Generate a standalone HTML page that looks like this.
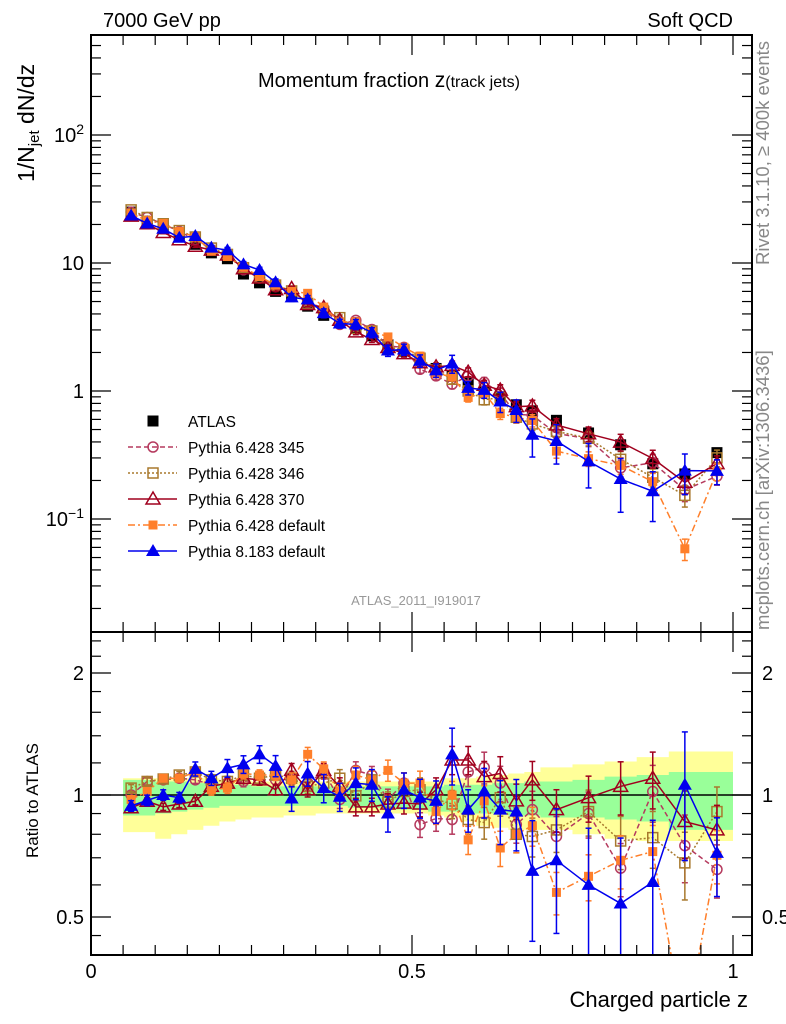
<!DOCTYPE html>
<html><head><meta charset="utf-8">
<style>
html,body{margin:0;padding:0;background:#fff;}
svg{display:block;font-family:"Liberation Sans",sans-serif;}
</style></head>
<body>
<svg id="chart" width="786" height="1024" viewBox="0 0 786 1024" xmlns="http://www.w3.org/2000/svg">
<text x="103" y="27" font-size="20">7000 GeV pp</text>
<text x="733" y="27" font-size="20" text-anchor="end">Soft QCD</text>
<text x="258" y="87" font-size="20">Momentum fraction <tspan font-size="21">z</tspan><tspan font-size="16">(track jets)</tspan></text>
<text transform="translate(34,182) rotate(-90)" font-size="23">1/N<tspan font-size="15" dy="5">jet</tspan><tspan dy="-5"> dN/dz</tspan></text>
<text transform="translate(38,858) rotate(-90)" font-size="17">Ratio to ATLAS</text>
<text x="748" y="1007" font-size="22" text-anchor="end">Charged particle z</text>
<text transform="translate(769,265) rotate(-90)" font-size="18.5" fill="#888">Rivet 3.1.10, ≥ 400k events</text>
<text transform="translate(769,630) rotate(-90)" font-size="18.5" fill="#888">mcplots.cern.ch [arXiv:1306.3436]</text>
<text x="416" y="605" font-size="13" fill="#999" text-anchor="middle">ATLAS_2011_I919017</text>
<g id="bands"></g>
<g id="ratio"></g>
<g id="main"></g>
<g id="axes"></g>
<g id="legend"></g>
</svg>
<script>
const zBins = [0.0625,0.0875,0.1125,0.1375,0.1625,0.1875,0.2125,0.2375,0.2625,0.2875,0.3125,0.3375,0.3625,0.3875,0.4125,0.4375,0.4625,0.4875,0.5125,0.5375,0.5625,0.5875,0.6125,0.6375,0.6625,0.6875,0.725,0.775,0.825,0.875,0.925,0.975];
const atlasValues = [25,21,18.5,16,14,12,10.8,8.2,7.0,6.0,5.5,4.6,3.9,3.4,3.1,2.7,2.3,2.05,1.75,1.5,1.3,1.15,1.0,0.9,0.78,0.70,0.59,0.47,0.38,0.27,0.225,0.33];
const ratio345 = [1.0,1.08,1.09,1.10,1.09,1.06,1.07,1.08,1.09,1.09,1.09,1.07,1.14,0.975,1.15,1.12,0.975,1.07,0.845,0.875,0.87,1.14,1.17,1.07,0.845,0.92,0.79,0.90,0.66,1.02,0.75,0.655];
const ratio346 = [1.04,1.08,1.095,1.12,1.14,1.09,1.08,1.12,1.10,1.12,1.10,1.05,1.07,1.10,0.995,1.09,0.96,1.02,1.03,0.975,0.95,0.87,0.855,0.985,0.80,0.79,0.82,0.91,0.77,0.785,0.68,0.91];
const ratio370 = [0.93,0.965,0.935,0.95,0.965,1.05,1.07,1.10,1.09,1.03,1.15,1.03,1.15,1.05,0.935,0.935,0.95,0.955,0.95,1.03,1.22,1.22,1.11,1.13,0.967,1.09,0.92,0.985,1.05,1.10,0.86,0.82];
const ratioP6def = [0.975,1.02,1.10,1.10,1.14,1.03,1.04,1.13,1.12,1.12,1.09,1.26,1.16,1.02,1.12,1.09,1.15,1.07,1.07,0.91,1.0,0.775,0.967,0.74,0.80,0.84,0.575,0.63,0.69,0.725,0.26,0.71];
const ratioP8def = [0.94,0.97,1.0,0.985,1.16,1.10,1.165,1.19,1.26,1.18,0.98,1.13,1.04,0.99,1.07,1.06,0.90,1.03,0.985,0.967,1.26,0.92,1.02,0.92,0.91,0.65,0.69,0.60,0.54,0.61,1.06,0.72];
const relErrMC = [0.02,0.02,0.02,0.02,0.02,0.03,0.03,0.03,0.03,0.03,0.04,0.04,0.04,0.05,0.05,0.05,0.06,0.06,0.07,0.07,0.08,0.08,0.09,0.10,0.10,0.11,0.12,0.13,0.15,0.16,0.19,0.15];
const relErrP8 = [0.03,0.03,0.03,0.03,0.04,0.04,0.05,0.05,0.05,0.06,0.07,0.07,0.08,0.08,0.09,0.09,0.10,0.10,0.11,0.12,0.16,0.12,0.14,0.18,0.20,0.33,0.34,0.38,0.45,0.42,0.35,0.22];
const yellowUp = [1.10,1.10,1.10,1.10,1.10,1.10,1.09,1.09,1.08,1.08,1.08,1.08,1.08,1.08,1.08,1.08,1.08,1.08,1.08,1.08,1.10,1.10,1.11,1.12,1.13,1.14,1.17,1.19,1.21,1.24,1.28,1.28];
const yellowDown = [0.81,0.81,0.78,0.80,0.82,0.84,0.86,0.87,0.88,0.88,0.89,0.89,0.90,0.90,0.90,0.90,0.90,0.90,0.90,0.89,0.88,0.86,0.84,0.83,0.82,0.82,0.82,0.80,0.78,0.77,0.77,0.77];
const greenUp = [1.09,1.09,1.08,1.08,1.07,1.07,1.06,1.06,1.05,1.05,1.05,1.05,1.05,1.05,1.05,1.05,1.05,1.05,1.05,1.05,1.06,1.06,1.06,1.07,1.07,1.08,1.08,1.09,1.11,1.12,1.14,1.14];
const greenDown = [0.89,0.89,0.90,0.91,0.92,0.93,0.94,0.94,0.94,0.94,0.94,0.94,0.94,0.94,0.93,0.93,0.93,0.92,0.92,0.91,0.91,0.90,0.90,0.90,0.89,0.89,0.88,0.88,0.87,0.86,0.82,0.82];
const binHalf = [0.0125,0.0125,0.0125,0.0125,0.0125,0.0125,0.0125,0.0125,0.0125,0.0125,0.0125,0.0125,0.0125,0.0125,0.0125,0.0125,0.0125,0.0125,0.0125,0.0125,0.0125,0.0125,0.0125,0.0125,0.0125,0.0125,0.025,0.025,0.025,0.025,0.025,0.025];

const NS="http://www.w3.org/2000/svg";
const L=91,R=752,T=35,MB=632,RB=955;
function X(z){return 91+z*642;}
function Ym(v){return 391-128*Math.log10(v);}
function Yr(r){return 795-122*Math.log2(r);}
function el(tag,attrs,parent){const e=document.createElementNS(NS,tag);for(const k in attrs)e.setAttribute(k,attrs[k]);parent.appendChild(e);return e;}

const bands=document.getElementById('bands');
function band(up,down,color,name){
  let top=[],bot=[];
  zBins.forEach((z,i)=>{const x0=X(z-binHalf[i]),x1=X(z+binHalf[i]);
    top.push(x0+','+Yr(up[i]),x1+','+Yr(up[i]));
    bot.unshift(x1+','+Yr(down[i]),x0+','+Yr(down[i]));});
  const p=el('polygon',{points:top.concat(bot).join(' '),fill:color},bands);
  
  
}
band(yellowUp,yellowDown,'#ffff99','yellow-band');
band(greenUp,greenDown,'#99ff99','green-band');

const series=[
 {name:'Pythia 6.428 345',key:'p345',r:ratio345,color:'#b53a5e',dash:'5,3',marker:'circle',fill:'none',err:relErrMC},
 {name:'Pythia 6.428 346',key:'p346',r:ratio346,color:'#a8792d',dash:'2,2',marker:'square',fill:'none',err:relErrMC},
 {name:'Pythia 6.428 370',key:'p370',r:ratio370,color:'#a0001e',dash:'',marker:'tri',fill:'none',err:relErrMC},
 {name:'Pythia 6.428 default',key:'p6def',r:ratioP6def,color:'#ff7f2a',dash:'7,3,2,3',marker:'fsquare',fill:'#ff7f2a',err:relErrMC},
 {name:'Pythia 8.183 default',key:'p8def',r:ratioP8def,color:'#0000ee',dash:'',marker:'ftri',fill:'#0000ee',err:relErrP8}
];
function marker(g,type,x,y,color){
  let m;
  if(type==='circle') m=el('circle',{cx:x,cy:y,r:5,fill:'none',stroke:color,'stroke-width':1.5},g);
  else if(type==='square') m=el('rect',{x:x-5,y:y-5,width:10,height:10,fill:'none',stroke:color,'stroke-width':1.5},g);
  else if(type==='fsquare') m=el('rect',{x:x-4.5,y:y-4.5,width:9,height:9,fill:color},g);
  else if(type==='atlas') m=el('rect',{x:x-5.5,y:y-5.5,width:11,height:11,fill:'#000'},g);
  else if(type==='tri') m=el('polygon',{points:`${x},${y-7} ${x-7},${y+5} ${x+7},${y+5}`,fill:'none',stroke:color,'stroke-width':1.5},g);
  else m=el('polygon',{points:`${x},${y-7} ${x-7},${y+5} ${x+7},${y+5}`,fill:color},g);
  return m;
}
const mainG=document.getElementById('main'), ratioG=document.getElementById('ratio');
const defs=el('defs',{},document.getElementById('chart'));
const c1=el('clipPath',{id:'cm'},defs);el('rect',{x:L,y:T,width:R-L,height:MB-T},c1);
const c2=el('clipPath',{id:'cr'},defs);el('rect',{x:L,y:MB,width:R-L,height:RB-MB},c2);
mainG.setAttribute('clip-path','url(#cm)');ratioG.setAttribute('clip-path','url(#cr)');
el('line',{x1:L,x2:R,y1:Yr(1),y2:Yr(1),stroke:'#000','stroke-width':1.5},ratioG);

series.forEach(s=>{
  [['main',mainG,(i)=>atlasValues[i]*s.r[i],Ym],['ratio',ratioG,(i)=>s.r[i],Yr]].forEach(([pn,parent,val,Y])=>{
    const g=el('g',{},parent);
    
    
    const pts=zBins.map((z,i)=>X(z)+','+Y(val(i))).join(' ');
    const ln=el('polyline',{points:pts,fill:'none',stroke:s.color,'stroke-width':1.5},g);
    if(s.dash) ln.setAttribute('stroke-dasharray',s.dash);
    zBins.forEach((z,i)=>{
      const v=val(i),e=s.err[i];
      const x=X(z),y1=Y(v*(1+e)),y2=Y(Math.max(v*(1-e),1e-3));
      el('line',{x1:x,x2:x,y1:y1,y2:y2,stroke:s.color,'stroke-width':1.5},g);
      el('line',{x1:x-3,x2:x+3,y1:y1,y2:y1,stroke:s.color,'stroke-width':1.5},g);
      el('line',{x1:x-3,x2:x+3,y1:y2,y2:y2,stroke:s.color,'stroke-width':1.5},g);
      const m=marker(g,s.marker,x,Y(v),s.color);
      
      
    });
  });
});
const ag=el('g',{},mainG);


zBins.forEach((z,i)=>{
  const m=marker(ag,'atlas',X(z),Ym(atlasValues[i]),'#000');
  
  
});
mainG.insertBefore(ag,mainG.firstChild);

const ax=document.getElementById('axes');
el('rect',{x:L,y:T,width:R-L,height:RB-T,fill:'none',stroke:'#000','stroke-width':2},ax);
el('line',{x1:L,x2:R,y1:MB,y2:MB,stroke:'#000','stroke-width':2},ax);
function tick(x1,y1,x2,y2){el('line',{x1,y1,x2,y2,stroke:'#000','stroke-width':1.2},ax);}
function label(x,y,txt,anchor,size,name){const t=el('text',{x,y,'font-size':size,'text-anchor':anchor},ax);t.innerHTML=txt;return t;}
for(let d=-2;d<=2;d++){for(let k=1;k<10;k++){const v=k*Math.pow(10,d);const y=Ym(v);if(y<T||y>MB)continue;const len=k===1?20:10;tick(L,y,L+len,y);tick(R,y,R-len,y);}}
const mainTickVals=[100,10,1,0.1];
const mainTickText=['10<tspan font-size="14" dy="-8">2</tspan>','10','1','10<tspan font-size="14" dy="-8">−1</tspan>'];
mainTickVals.forEach((v,i)=>label(84,Ym(v)+7,mainTickText[i],'end',20,'y-tick-label'));
const ratioMinor=[0.4,0.45,0.5,0.6,0.7,0.8,0.9,1,1.2,1.4,1.6,1.8,2,2.2,2.4];
ratioMinor.forEach(r=>{const y=Yr(r);if(y<MB||y>RB)return;const maj=(r===0.5||r===1||r===2);const len=maj?20:10;tick(L,y,L+len,y);tick(R,y,R-len,y);});
const ratioTickVals=[2,1,0.5];const ratioTickText=['2','1','0.5'];
ratioTickVals.forEach((r,i)=>{label(84,Yr(r)+7,ratioTickText[i],'end',20,'ratio-tick-label-left');label(762,Yr(r)+7,ratioTickText[i],'start',20,'ratio-tick-label-right');});
for(let i=0;i<=20;i++){const z=i*0.05;const x=X(z);const maj=i%10===0;const len=maj?20:10;tick(x,RB,x,RB-len);tick(x,MB,x,MB-len);tick(x,MB,x,MB+len);tick(x,T,x,T+len);}
const xTickVals=[0,0.5,1];const xTickText=['0','0.5','1'];
xTickVals.forEach((z,i)=>label(X(z),978,xTickText[i],'middle',20,'x-tick-label'));

const lg=document.getElementById('legend');
const legY=[421,447,473,499,525,551];
let e0=el('g',{},lg);
marker(e0,'atlas',153,legY[0],'#000');
let t0=el('text',{x:188,y:legY[0]+6,'font-size':15.5},e0);t0.textContent='ATLAS';
series.forEach((s,i)=>{
  const g=el('g',{},lg);
  
  
  const y=legY[i+1];
  const ln=el('line',{x1:128,x2:177,y1:y,y2:y,stroke:s.color,'stroke-width':1.5},g);
  if(s.dash) ln.setAttribute('stroke-dasharray',s.dash);
  marker(g,s.marker,153,y,s.color);
  const t=el('text',{x:188,y:y+6,'font-size':15.5},g);t.textContent=s.name;
});
</script>
</body></html>
